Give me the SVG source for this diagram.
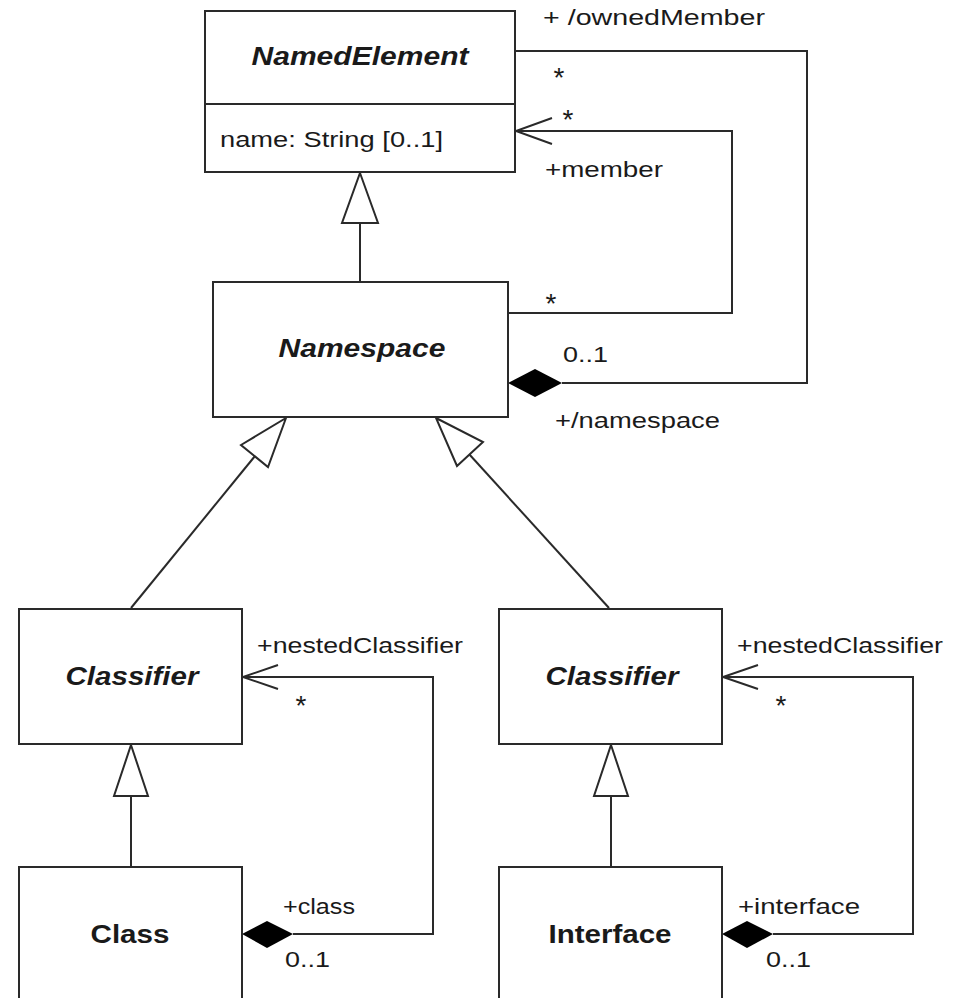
<svg xmlns="http://www.w3.org/2000/svg" width="958" height="998" viewBox="0 0 958 998">
<style>
.box{fill:#fff;stroke:#2a2a2a;stroke-width:2}
.ln{fill:none;stroke:#2a2a2a;stroke-width:2}
.gen{fill:#fff;stroke:#2a2a2a;stroke-width:2;stroke-linejoin:miter}
.dia{fill:#000;stroke:none}
.t{font-family:"Liberation Sans",Arial,sans-serif;font-size:22px;fill:#1a1a1a}
.st{font-family:"Liberation Sans",Arial,sans-serif;font-size:28px;fill:#1a1a1a}
.bt{font-family:"Liberation Sans",Arial,sans-serif;font-size:25px;font-weight:bold;fill:#1a1a1a;text-anchor:middle}
.it{font-style:italic}
</style>
<rect width="958" height="998" fill="#fff"/>
<g id="connectors">
  <polyline class="ln" points="515,51 807,51 807,383 562,383"/>
  <polygon class="dia" points="508,383 535,369 562,383 535,397"/>
  <polyline class="ln" points="509,313 732,313 732,131 516,131"/>
  <polyline class="ln" points="552,118 516,131 552,144"/>
  <line class="ln" x1="360" y1="223" x2="360" y2="282"/>
  <polygon class="gen" points="360,173 378,223 342,223"/>
  <line class="ln" x1="131" y1="608" x2="255" y2="456"/>
  <polygon class="gen" points="286,418 268,467 241,445"/>
  <line class="ln" x1="609" y1="608" x2="469" y2="454"/>
  <polygon class="gen" points="436,418 483,442 457,466"/>
  <line class="ln" x1="131" y1="796" x2="131" y2="867"/>
  <polygon class="gen" points="131,745 148,796 114,796"/>
  <line class="ln" x1="611" y1="796" x2="611" y2="867"/>
  <polygon class="gen" points="611,745 628,796 594,796"/>
  <polyline class="ln" points="293,934 433,934 433,677 243,677"/>
  <polyline class="ln" points="278,665 243,677 278,689"/>
  <polygon class="dia" points="242,934 267,921 293,934 267,948"/>
  <polyline class="ln" points="773,934 913,934 913,677 723,677"/>
  <polyline class="ln" points="758,665 723,677 758,689"/>
  <polygon class="dia" points="722,934 747,921 773,934 747,948"/>
</g>
<g id="labels">
  <text class="t" x="543" y="25" textLength="222" lengthAdjust="spacingAndGlyphs">+ /ownedMember</text>
  <text class="st" x="553.5" y="87">*</text>
  <text class="st" x="562.5" y="129">*</text>
  <text class="t" x="545" y="177" textLength="118" lengthAdjust="spacingAndGlyphs">+member</text>
  <text class="st" x="545.5" y="313">*</text>
  <text class="t" x="563" y="362" textLength="45" lengthAdjust="spacingAndGlyphs">0..1</text>
  <text class="t" x="555" y="428" textLength="165" lengthAdjust="spacingAndGlyphs">+/namespace</text>
  <text class="t" x="257" y="653" textLength="206" lengthAdjust="spacingAndGlyphs">+nestedClassifier</text>
  <text class="st" x="295.5" y="715">*</text>
  <text class="t" x="737" y="653" textLength="206" lengthAdjust="spacingAndGlyphs">+nestedClassifier</text>
  <text class="st" x="775.5" y="715">*</text>
  <text class="t" x="283" y="914" textLength="72" lengthAdjust="spacingAndGlyphs">+class</text>
  <text class="t" x="285" y="967" textLength="45" lengthAdjust="spacingAndGlyphs">0..1</text>
  <text class="t" x="738" y="914" textLength="122" lengthAdjust="spacingAndGlyphs">+interface</text>
  <text class="t" x="766" y="967" textLength="45" lengthAdjust="spacingAndGlyphs">0..1</text>
</g>
<g id="NamedElement">
  <rect class="box" x="205" y="11" width="310" height="161"/>
  <line class="ln" x1="205" y1="104" x2="515" y2="104"/>
  <text class="bt it" x="360" y="65" textLength="217" lengthAdjust="spacingAndGlyphs">NamedElement</text>
  <text class="t" x="220" y="147" textLength="223" lengthAdjust="spacingAndGlyphs">name: String [0..1]</text>
</g>
<g id="Namespace">
  <rect class="box" x="213" y="282" width="295" height="135"/>
  <text class="bt it" x="362" y="357" textLength="167" lengthAdjust="spacingAndGlyphs">Namespace</text>
</g>
<g id="ClassifierLeft">
  <rect class="box" x="19" y="609" width="223" height="135"/>
  <text class="bt it" x="132" y="685" textLength="133" lengthAdjust="spacingAndGlyphs">Classifier</text>
</g>
<g id="ClassifierRight">
  <rect class="box" x="499" y="609" width="223" height="135"/>
  <text class="bt it" x="612" y="685" textLength="133" lengthAdjust="spacingAndGlyphs">Classifier</text>
</g>
<g id="Class">
  <rect class="box" x="19" y="867" width="223" height="150"/>
  <text class="bt" x="130" y="943" textLength="79" lengthAdjust="spacingAndGlyphs">Class</text>
</g>
<g id="Interface">
  <rect class="box" x="499" y="867" width="223" height="150"/>
  <text class="bt" x="610" y="943" textLength="123" lengthAdjust="spacingAndGlyphs">Interface</text>
</g>
</svg>
